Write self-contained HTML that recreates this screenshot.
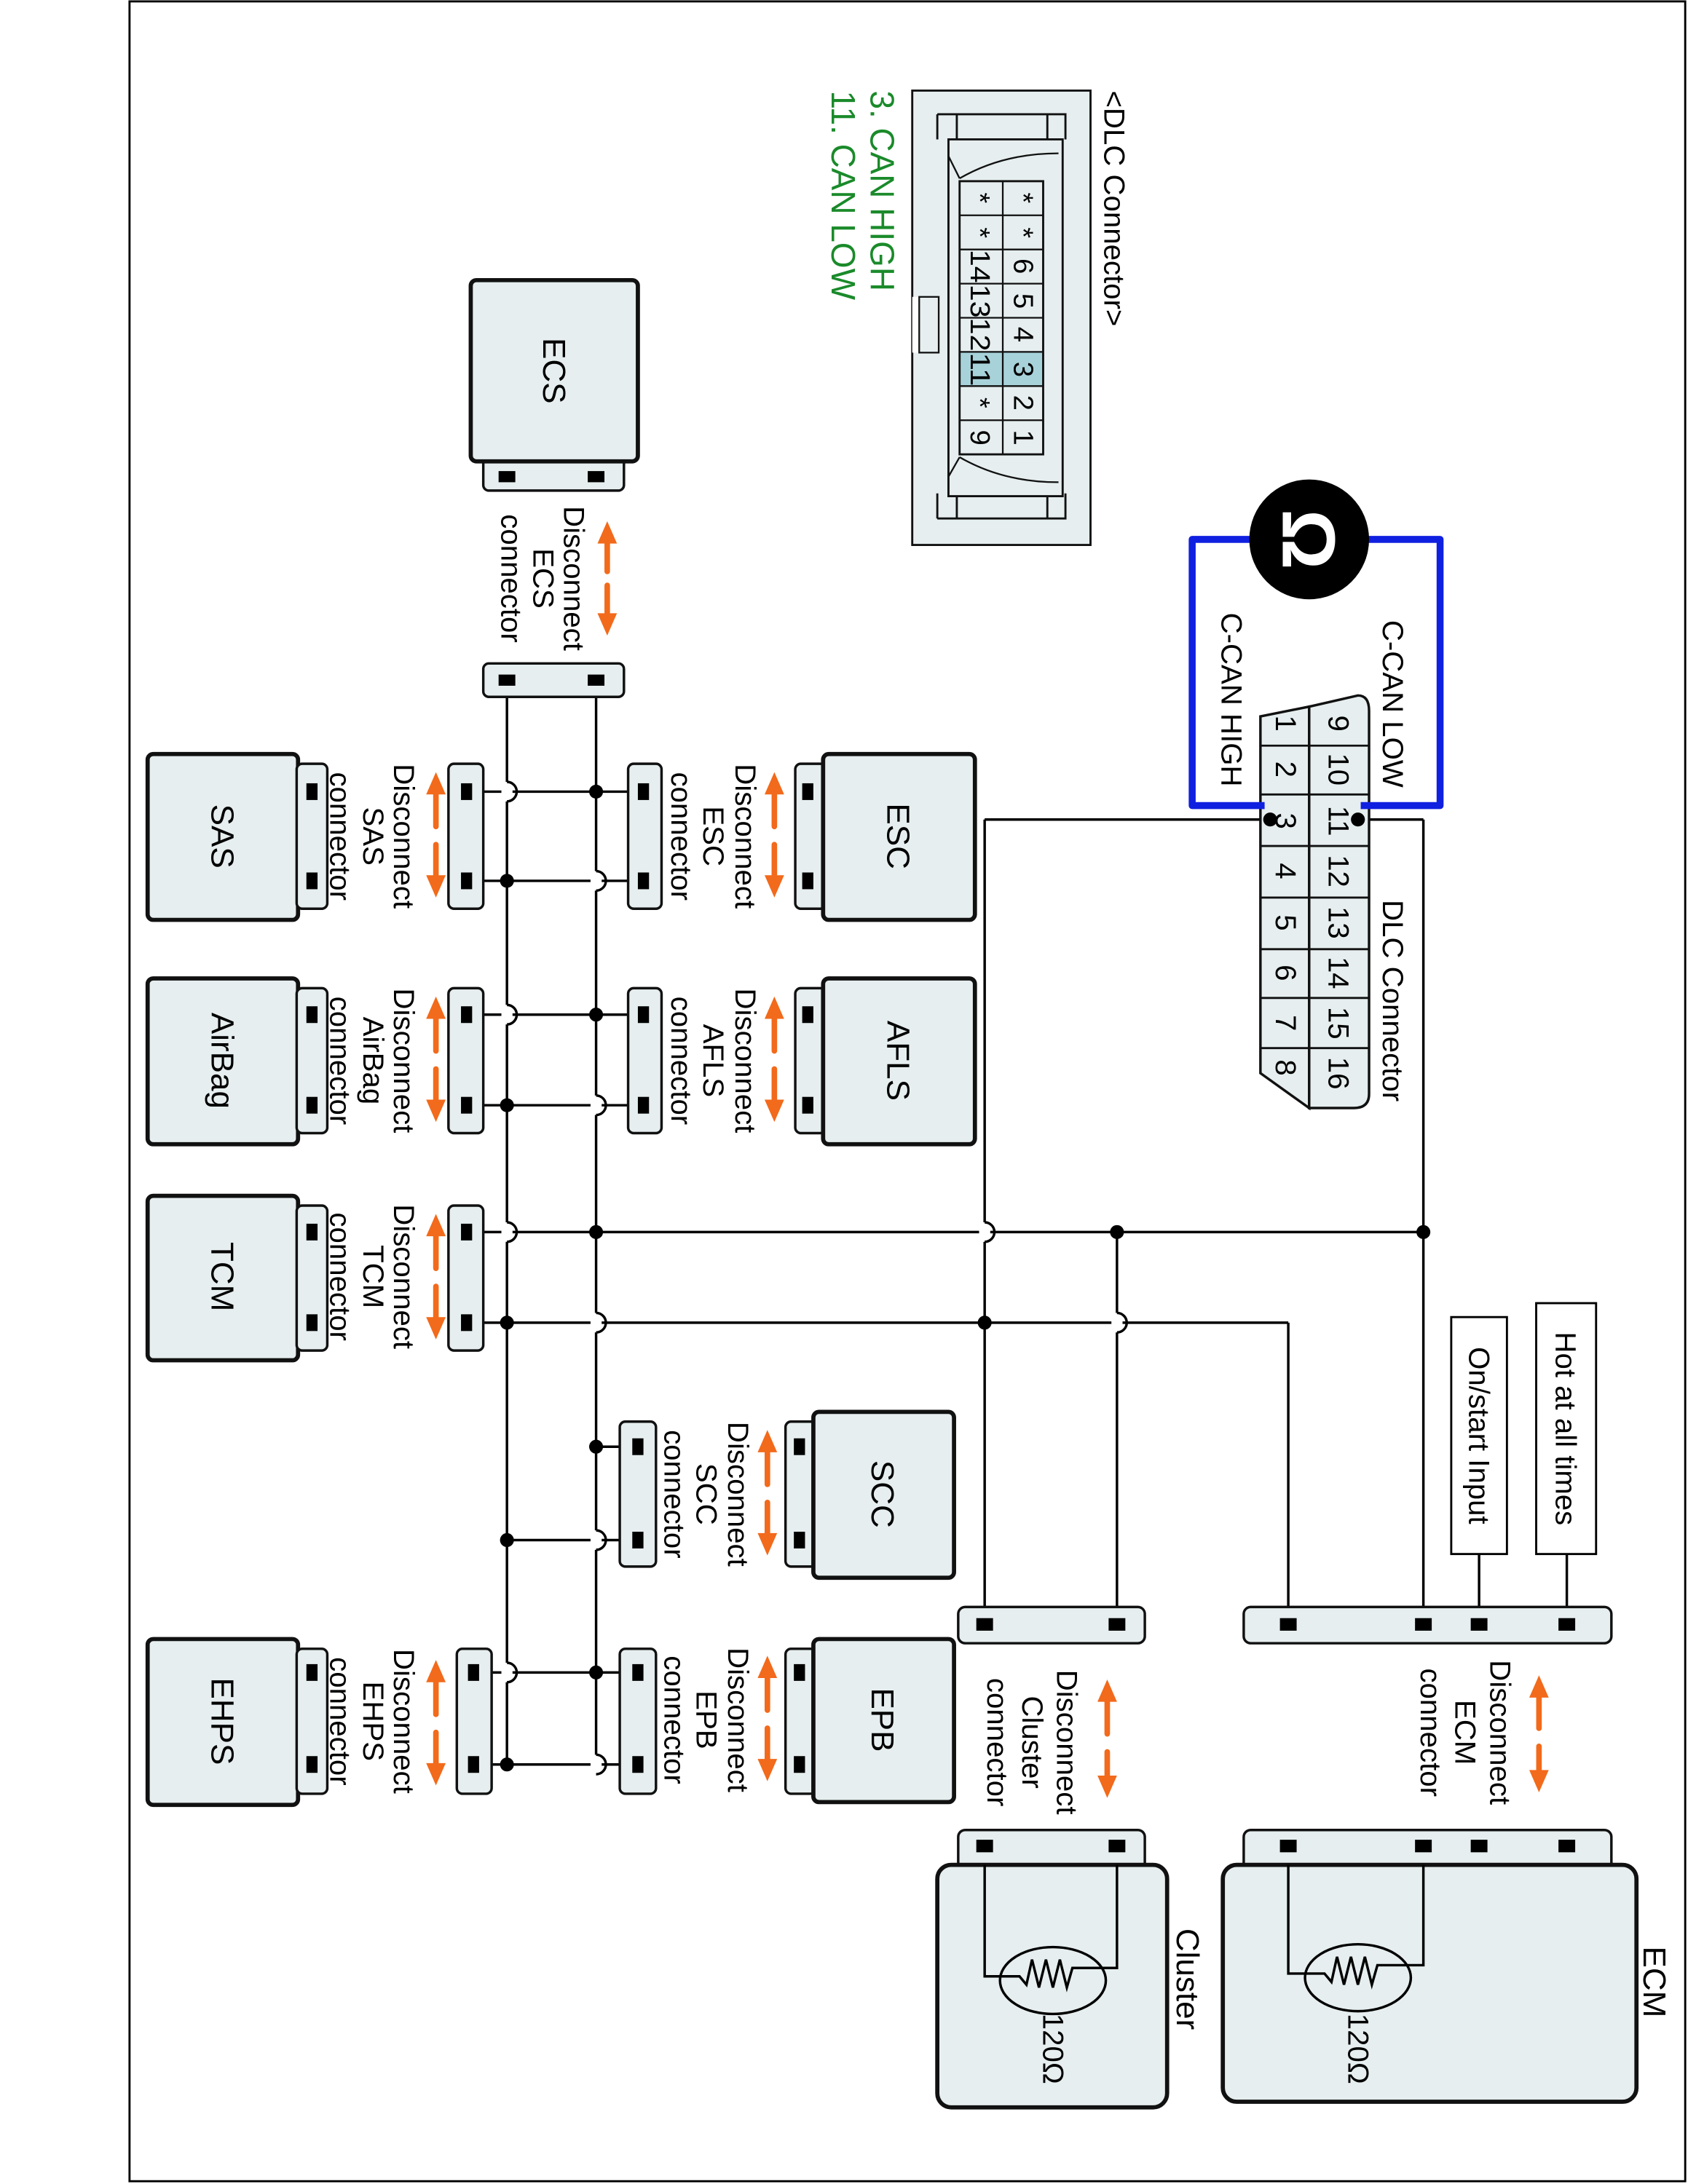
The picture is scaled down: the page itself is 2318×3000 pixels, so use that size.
<!DOCTYPE html>
<html><head><meta charset="utf-8"><style>
html,body{margin:0;padding:0;background:#fff}
svg{display:block}
text{font-family:"Liberation Sans",Arial,sans-serif;fill:#000}
.m{fill:#e6eeef;stroke:#111;stroke-width:3}
.s{fill:#e6eeef;stroke:#111;stroke-width:1.8}
.w{stroke:#000;stroke-width:1.8;fill:none}
.p{fill:#000}
.o{stroke:#f26a1b;stroke-width:4;fill:none;stroke-linecap:round}
.oh{fill:#f26a1b}
.lbl{font-size:21px}
.nm{font-size:23px}
</style></head><body>
<svg width="2318" height="3000" viewBox="0 0 1212 1567" preserveAspectRatio="none" xmlns="http://www.w3.org/2000/svg">
<rect x="93" y="1" width="1117" height="1564" fill="none" stroke="#000" stroke-width="1.5"/>

<line class="w" x1="364" y1="488" x2="364" y2="1268"/>
<line class="w" x1="428" y1="488" x2="428" y2="1268"/>

<!-- ECS -->
<rect class="s" x="347" y="328" width="101" height="24" rx="4"/>
<rect class="m" x="338" y="201" width="120" height="130" rx="4"/>
<rect class="p" x="358" y="338" width="12" height="8"/><rect class="p" x="422" y="338" width="12" height="8"/>
<text class="nm" transform="translate(398,266) rotate(90)" text-anchor="middle" dy="8">ECS</text>
<rect class="s" x="347" y="476" width="101" height="24" rx="4"/>
<rect class="p" x="358" y="484" width="12" height="8"/><rect class="p" x="422" y="484" width="12" height="8"/>
<text class="lbl" transform="translate(412,415) rotate(90)" text-anchor="middle" dy="7">Disconnect</text>
<text class="lbl" transform="translate(390,415) rotate(90)" text-anchor="middle" dy="7">ECS</text>
<text class="lbl" transform="translate(367,415) rotate(90)" text-anchor="middle" dy="7">connector</text>
<line class="o" x1="436" y1="386" x2="436" y2="410"/><polygon class="oh" points="429,390 443,390 436,374"/>
<line class="o" x1="436" y1="420" x2="436" y2="444"/><polygon class="oh" points="429,440 443,440 436,456"/>

<g class="w">
<line x1="335" y1="568" x2="462" y2="568"/>
<line x1="335" y1="632" x2="462" y2="632"/>
<line x1="335" y1="728" x2="462" y2="728"/>
<line x1="335" y1="793" x2="462" y2="793"/>
<line x1="335" y1="884" x2="1022" y2="884"/>
<line x1="335" y1="949" x2="925" y2="949"/>
<line x1="925" y1="949" x2="925" y2="1165"/>
<line x1="428" y1="1038" x2="458" y2="1038"/>
<line x1="364" y1="1105" x2="458" y2="1105"/>
<line x1="340" y1="1200" x2="458" y2="1200"/>
<line x1="340" y1="1266" x2="458" y2="1266"/>
<line x1="911" y1="588" x2="707" y2="588"/>
<line x1="707" y1="588" x2="707" y2="1165"/>
<line x1="975" y1="588" x2="1022" y2="588"/>
<line x1="1022" y1="588" x2="1022" y2="1165"/>
<line x1="802" y1="884" x2="802" y2="1165"/>
<line x1="1062" y1="1115" x2="1062" y2="1165"/>
<line x1="1125" y1="1115" x2="1125" y2="1165"/>
</g>
<g>
<rect fill="#fff" x="360" y="561" width="8" height="14"/><path class="w" d="M364 561 A7 7 0 0 1 364 575"/>
<rect fill="#fff" x="424" y="625" width="8" height="14"/><path class="w" d="M428 625 A7 7 0 0 1 428 639"/>
<rect fill="#fff" x="360" y="721" width="8" height="14"/><path class="w" d="M364 721 A7 7 0 0 1 364 735"/>
<rect fill="#fff" x="424" y="786" width="8" height="14"/><path class="w" d="M428 786 A7 7 0 0 1 428 800"/>
<rect fill="#fff" x="360" y="877" width="8" height="14"/><path class="w" d="M364 877 A7 7 0 0 1 364 891"/>
<rect fill="#fff" x="703" y="877" width="8" height="14"/><path class="w" d="M707 877 A7 7 0 0 1 707 891"/>
<rect fill="#fff" x="424" y="942" width="8" height="14"/><path class="w" d="M428 942 A7 7 0 0 1 428 956"/>
<rect fill="#fff" x="798" y="942" width="8" height="14"/><path class="w" d="M802 942 A7 7 0 0 1 802 956"/>
<rect fill="#fff" x="424" y="1098" width="8" height="14"/><path class="w" d="M428 1098 A7 7 0 0 1 428 1112"/>
<rect fill="#fff" x="360" y="1193" width="8" height="14"/><path class="w" d="M364 1193 A7 7 0 0 1 364 1207"/>
<rect fill="#fff" x="424" y="1259" width="8" height="14"/><path class="w" d="M428 1259 A7 7 0 0 1 428 1273"/>
</g>
<g class="p">
<circle cx="428" cy="568" r="5"/><circle cx="364" cy="632" r="5"/>
<circle cx="428" cy="728" r="5"/><circle cx="364" cy="793" r="5"/>
<circle cx="428" cy="884" r="5"/><circle cx="802" cy="884" r="5"/><circle cx="1022" cy="884" r="5"/>
<circle cx="364" cy="949" r="5"/><circle cx="707" cy="949" r="5"/>
<circle cx="428" cy="1038" r="5"/><circle cx="364" cy="1105" r="5"/>
<circle cx="428" cy="1200" r="5"/><circle cx="364" cy="1266" r="5"/>
</g>

<g>
<rect class="s" x="571" y="548" width="22" height="104" rx="4"/>
<rect class="m" x="591" y="541" width="109" height="119" rx="4"/>
<rect class="p" x="576" y="562" width="8" height="12"/><rect class="p" x="576" y="626" width="8" height="12"/>
<text class="nm" transform="translate(645,600) rotate(90)" text-anchor="middle" dy="8">ESC</text>
<rect class="s" x="451" y="548" width="24" height="104" rx="4"/>
<rect class="p" x="458" y="562" width="8" height="12"/><rect class="p" x="458" y="626" width="8" height="12"/>
<text class="lbl" transform="translate(535,600) rotate(90)" text-anchor="middle" dy="7">Disconnect</text>
<text class="lbl" transform="translate(512,600) rotate(90)" text-anchor="middle" dy="7">ESC</text>
<text class="lbl" transform="translate(489,600) rotate(90)" text-anchor="middle" dy="7">connector</text>
<line class="o" x1="556" y1="566" x2="556" y2="593"/><polygon class="oh" points="549,570 563,570 556,554"/>
<line class="o" x1="556" y1="606" x2="556" y2="632"/><polygon class="oh" points="549,628 563,628 556,644"/>

<rect class="s" x="571" y="709" width="22" height="104" rx="4"/>
<rect class="m" x="591" y="702" width="109" height="119" rx="4"/>
<rect class="p" x="576" y="722" width="8" height="12"/><rect class="p" x="576" y="787" width="8" height="12"/>
<text class="nm" transform="translate(645,761) rotate(90)" text-anchor="middle" dy="8">AFLS</text>
<rect class="s" x="451" y="709" width="24" height="104" rx="4"/>
<rect class="p" x="458" y="722" width="8" height="12"/><rect class="p" x="458" y="787" width="8" height="12"/>
<text class="lbl" transform="translate(535,761) rotate(90)" text-anchor="middle" dy="7">Disconnect</text>
<text class="lbl" transform="translate(512,761) rotate(90)" text-anchor="middle" dy="7">AFLS</text>
<text class="lbl" transform="translate(489,761) rotate(90)" text-anchor="middle" dy="7">connector</text>
<line class="o" x1="556" y1="727" x2="556" y2="754"/><polygon class="oh" points="549,731 563,731 556,715"/>
<line class="o" x1="556" y1="767" x2="556" y2="793"/><polygon class="oh" points="549,789 563,789 556,805"/>
</g>

<g>
<rect class="m" x="106" y="541" width="108" height="119" rx="4"/>
<rect class="s" x="213" y="548" width="22" height="104" rx="4"/>
<rect class="p" x="220" y="562" width="8" height="12"/><rect class="p" x="220" y="626" width="8" height="12"/>
<text class="nm" transform="translate(160,600) rotate(90)" text-anchor="middle" dy="8">SAS</text>
<rect class="s" x="322" y="548" width="25" height="104" rx="4"/>
<rect class="p" x="331" y="562" width="8" height="12"/><rect class="p" x="331" y="626" width="8" height="12"/>
<text class="lbl" transform="translate(290,600) rotate(90)" text-anchor="middle" dy="7">Disconnect</text>
<text class="lbl" transform="translate(268,600) rotate(90)" text-anchor="middle" dy="7">SAS</text>
<text class="lbl" transform="translate(244,600) rotate(90)" text-anchor="middle" dy="7">connector</text>
<line class="o" x1="313" y1="566" x2="313" y2="593"/><polygon class="oh" points="306,570 320,570 313,554"/>
<line class="o" x1="313" y1="606" x2="313" y2="632"/><polygon class="oh" points="306,628 320,628 313,644"/>

<rect class="m" x="106" y="702" width="108" height="119" rx="4"/>
<rect class="s" x="213" y="709" width="22" height="104" rx="4"/>
<rect class="p" x="220" y="722" width="8" height="12"/><rect class="p" x="220" y="787" width="8" height="12"/>
<text class="nm" transform="translate(160,761) rotate(90)" text-anchor="middle" dy="8">AirBag</text>
<rect class="s" x="322" y="709" width="25" height="104" rx="4"/>
<rect class="p" x="331" y="722" width="8" height="12"/><rect class="p" x="331" y="787" width="8" height="12"/>
<text class="lbl" transform="translate(290,761) rotate(90)" text-anchor="middle" dy="7">Disconnect</text>
<text class="lbl" transform="translate(268,761) rotate(90)" text-anchor="middle" dy="7">AirBag</text>
<text class="lbl" transform="translate(244,761) rotate(90)" text-anchor="middle" dy="7">connector</text>
<line class="o" x1="313" y1="727" x2="313" y2="754"/><polygon class="oh" points="306,731 320,731 313,715"/>
<line class="o" x1="313" y1="767" x2="313" y2="793"/><polygon class="oh" points="306,789 320,789 313,805"/>

<rect class="m" x="106" y="858" width="108" height="118" rx="4"/>
<rect class="s" x="213" y="865" width="22" height="104" rx="4"/>
<rect class="p" x="220" y="878" width="8" height="12"/><rect class="p" x="220" y="943" width="8" height="12"/>
<text class="nm" transform="translate(160,916) rotate(90)" text-anchor="middle" dy="8">TCM</text>
<rect class="s" x="322" y="865" width="25" height="104" rx="4"/>
<rect class="p" x="331" y="878" width="8" height="12"/><rect class="p" x="331" y="943" width="8" height="12"/>
<text class="lbl" transform="translate(290,916) rotate(90)" text-anchor="middle" dy="7">Disconnect</text>
<text class="lbl" transform="translate(268,916) rotate(90)" text-anchor="middle" dy="7">TCM</text>
<text class="lbl" transform="translate(244,916) rotate(90)" text-anchor="middle" dy="7">connector</text>
<line class="o" x1="313" y1="883" x2="313" y2="910"/><polygon class="oh" points="306,887 320,887 313,871"/>
<line class="o" x1="313" y1="923" x2="313" y2="949"/><polygon class="oh" points="306,945 320,945 313,961"/>
</g>

<g>
<rect class="s" x="564" y="1020" width="22" height="104" rx="4"/>
<rect class="m" x="584" y="1013" width="101" height="119" rx="4"/>
<rect class="p" x="570" y="1032" width="8" height="12"/><rect class="p" x="570" y="1099" width="8" height="12"/>
<text class="nm" transform="translate(634,1072) rotate(90)" text-anchor="middle" dy="8">SCC</text>
<rect class="s" x="445" y="1020" width="26" height="104" rx="4"/>
<rect class="p" x="454" y="1032" width="8" height="12"/><rect class="p" x="454" y="1099" width="8" height="12"/>
<text class="lbl" transform="translate(530,1072) rotate(90)" text-anchor="middle" dy="7">Disconnect</text>
<text class="lbl" transform="translate(507,1072) rotate(90)" text-anchor="middle" dy="7">SCC</text>
<text class="lbl" transform="translate(484,1072) rotate(90)" text-anchor="middle" dy="7">connector</text>
<line class="o" x1="551" y1="1038" x2="551" y2="1065"/><polygon class="oh" points="544,1042 558,1042 551,1026"/>
<line class="o" x1="551" y1="1078" x2="551" y2="1104"/><polygon class="oh" points="544,1100 558,1100 551,1116"/>

<rect class="s" x="564" y="1183" width="22" height="104" rx="4"/>
<rect class="m" x="584" y="1176" width="101" height="117" rx="4"/>
<rect class="p" x="570" y="1194" width="8" height="12"/><rect class="p" x="570" y="1260" width="8" height="12"/>
<text class="nm" transform="translate(634,1234) rotate(90)" text-anchor="middle" dy="8">EPB</text>
<rect class="s" x="445" y="1183" width="26" height="104" rx="4"/>
<rect class="p" x="454" y="1194" width="8" height="12"/><rect class="p" x="454" y="1260" width="8" height="12"/>
<text class="lbl" transform="translate(530,1234) rotate(90)" text-anchor="middle" dy="7">Disconnect</text>
<text class="lbl" transform="translate(507,1234) rotate(90)" text-anchor="middle" dy="7">EPB</text>
<text class="lbl" transform="translate(484,1234) rotate(90)" text-anchor="middle" dy="7">connector</text>
<line class="o" x1="551" y1="1200" x2="551" y2="1227"/><polygon class="oh" points="544,1204 558,1204 551,1188"/>
<line class="o" x1="551" y1="1240" x2="551" y2="1266"/><polygon class="oh" points="544,1262 558,1262 551,1278"/>

<rect class="m" x="106" y="1176" width="108" height="119" rx="4"/>
<rect class="s" x="213" y="1183" width="22" height="104" rx="4"/>
<rect class="p" x="220" y="1194" width="8" height="12"/><rect class="p" x="220" y="1260" width="8" height="12"/>
<text class="nm" transform="translate(160,1235) rotate(90)" text-anchor="middle" dy="8">EHPS</text>
<rect class="s" x="328" y="1183" width="25" height="104" rx="4"/>
<rect class="p" x="336" y="1194" width="8" height="12"/><rect class="p" x="336" y="1260" width="8" height="12"/>
<text class="lbl" transform="translate(290,1235) rotate(90)" text-anchor="middle" dy="7">Disconnect</text>
<text class="lbl" transform="translate(268,1235) rotate(90)" text-anchor="middle" dy="7">EHPS</text>
<text class="lbl" transform="translate(244,1235) rotate(90)" text-anchor="middle" dy="7">connector</text>
<line class="o" x1="313" y1="1203" x2="313" y2="1230"/><polygon class="oh" points="306,1207 320,1207 313,1191"/>
<line class="o" x1="313" y1="1243" x2="313" y2="1269"/><polygon class="oh" points="306,1265 320,1265 313,1281"/>
</g>

<rect class="s" x="688" y="1153" width="134" height="26" rx="5"/>
<rect class="p" x="701" y="1161" width="12" height="9"/><rect class="p" x="796" y="1161" width="12" height="9"/>
<rect class="s" x="893" y="1153" width="264" height="26" rx="5"/>
<rect class="p" x="919" y="1161" width="12" height="9"/><rect class="p" x="1016" y="1161" width="12" height="9"/>
<rect class="p" x="1056" y="1161" width="12" height="9"/><rect class="p" x="1119" y="1161" width="12" height="9"/>

<rect x="1042" y="945" width="40" height="170" fill="#fff" stroke="#000" stroke-width="1.5"/>
<text class="lbl" transform="translate(1062,1030) rotate(90)" text-anchor="middle" dy="7">On/start Input</text>
<rect x="1103" y="935" width="43" height="180" fill="#fff" stroke="#000" stroke-width="1.5"/>
<text class="lbl" transform="translate(1124,1025) rotate(90)" text-anchor="middle" dy="7">Hot at all times</text>

<text class="lbl" transform="translate(766,1250) rotate(90)" text-anchor="middle" dy="7">Disconnect</text>
<text class="lbl" transform="translate(741,1250) rotate(90)" text-anchor="middle" dy="7">Cluster</text>
<text class="lbl" transform="translate(716,1250) rotate(90)" text-anchor="middle" dy="7">connector</text>
<line class="o" x1="795" y1="1217" x2="795" y2="1244"/><polygon class="oh" points="788,1221 802,1221 795,1205"/>
<line class="o" x1="795" y1="1257" x2="795" y2="1278"/><polygon class="oh" points="788,1274 802,1274 795,1290"/>
<text class="lbl" transform="translate(1077,1243) rotate(90)" text-anchor="middle" dy="7">Disconnect</text>
<text class="lbl" transform="translate(1052,1243) rotate(90)" text-anchor="middle" dy="7">ECM</text>
<text class="lbl" transform="translate(1027,1243) rotate(90)" text-anchor="middle" dy="7">connector</text>
<line class="o" x1="1105" y1="1214" x2="1105" y2="1240"/><polygon class="oh" points="1098,1218 1112,1218 1105,1202"/>
<line class="o" x1="1105" y1="1253" x2="1105" y2="1273"/><polygon class="oh" points="1098,1270 1112,1270 1105,1286"/>

<rect class="s" x="688" y="1313" width="134" height="30" rx="5"/>
<rect class="p" x="701" y="1320" width="12" height="9"/><rect class="p" x="796" y="1320" width="12" height="9"/>
<rect class="m" x="673" y="1338" width="165" height="174" rx="10"/>
<path class="w" d="M707 1338 V1418 H732 L737 1424 L741 1406 L746 1426 L751 1406 L756 1426 L761 1406 L766 1426 L770 1412 H802 V1338"/>
<ellipse cx="756" cy="1421" rx="38" ry="24" fill="none" stroke="#000" stroke-width="1.8"/>
<text class="lbl" transform="translate(756,1470) rotate(90)" text-anchor="middle" dy="7">120Ω</text>
<text class="nm" transform="translate(853,1420) rotate(90)" text-anchor="middle" dy="8">Cluster</text>

<rect class="s" x="893" y="1313" width="264" height="30" rx="5"/>
<rect class="p" x="919" y="1320" width="12" height="9"/><rect class="p" x="1016" y="1320" width="12" height="9"/>
<rect class="p" x="1056" y="1320" width="12" height="9"/><rect class="p" x="1119" y="1320" width="12" height="9"/>
<rect class="m" x="878" y="1338" width="297" height="170" rx="10"/>
<path class="w" d="M925 1338 V1416 H951 L956 1422 L960 1404 L965 1424 L970 1404 L975 1424 L980 1404 L985 1424 L989 1410 H1022 V1338"/>
<ellipse cx="975" cy="1419" rx="38" ry="24" fill="none" stroke="#000" stroke-width="1.8"/>
<text class="lbl" transform="translate(975,1470) rotate(90)" text-anchor="middle" dy="7">120Ω</text>
<text class="nm" transform="translate(1188,1422) rotate(90)" text-anchor="middle" dy="8">ECM</text>

<path d="M905 514 L940 507 L940 795 L905 770 Z" fill="#e6eeef" stroke="#111" stroke-width="1.8"/>
<path d="M940 507 L975 499 Q983 499 983 510 L983 785 Q983 795 972 795 L940 795 Z" fill="#e6eeef" stroke="#111" stroke-width="1.8"/>
<g stroke="#111" stroke-width="1.5">
<line x1="905" y1="535" x2="983" y2="535"/><line x1="905" y1="570" x2="983" y2="570"/>
<line x1="905" y1="607" x2="983" y2="607"/><line x1="905" y1="644" x2="983" y2="644"/>
<line x1="905" y1="681" x2="983" y2="681"/><line x1="905" y1="716" x2="983" y2="716"/>
<line x1="905" y1="752" x2="983" y2="752"/>
</g>
<g class="lbl">
<text transform="translate(923,519) rotate(90)" text-anchor="middle" dy="7">1</text>
<text transform="translate(923,552) rotate(90)" text-anchor="middle" dy="7">2</text>
<text transform="translate(923,589) rotate(90)" text-anchor="middle" dy="7">3</text>
<text transform="translate(923,625) rotate(90)" text-anchor="middle" dy="7">4</text>
<text transform="translate(923,662) rotate(90)" text-anchor="middle" dy="7">5</text>
<text transform="translate(923,698) rotate(90)" text-anchor="middle" dy="7">6</text>
<text transform="translate(923,734) rotate(90)" text-anchor="middle" dy="7">7</text>
<text transform="translate(923,766) rotate(90)" text-anchor="middle" dy="7">8</text>
<text transform="translate(961,519) rotate(90)" text-anchor="middle" dy="7">9</text>
<text transform="translate(961,552) rotate(90)" text-anchor="middle" dy="7">10</text>
<text transform="translate(961,589) rotate(90)" text-anchor="middle" dy="7">11</text>
<text transform="translate(961,625) rotate(90)" text-anchor="middle" dy="7">12</text>
<text transform="translate(961,662) rotate(90)" text-anchor="middle" dy="7">13</text>
<text transform="translate(961,698) rotate(90)" text-anchor="middle" dy="7">14</text>
<text transform="translate(961,734) rotate(90)" text-anchor="middle" dy="7">15</text>
<text transform="translate(961,770) rotate(90)" text-anchor="middle" dy="7">16</text>
</g>
<text class="lbl" transform="translate(1000,505) rotate(90)" text-anchor="middle" dy="7">C-CAN LOW</text>
<text class="lbl" transform="translate(884,502) rotate(90)" text-anchor="middle" dy="7">C-CAN HIGH</text>
<text class="lbl" transform="translate(1000,718) rotate(90)" text-anchor="middle" dy="7">DLC Connector</text>
<path d="M908 578 H856 V387 H1034 V578 H977" fill="none" stroke="#1020e0" stroke-width="5" stroke-linejoin="round"/>
<circle cx="912" cy="588" r="5" class="p"/><circle cx="975" cy="588" r="5" class="p"/>
<circle cx="940" cy="387" r="43" fill="#000"/>
<text transform="translate(940,387) rotate(90)" text-anchor="middle" dy="19" style="font-size:54px;font-weight:bold;fill:#fff">Ω</text>

<rect x="655" y="65" width="128" height="326" fill="#e6eeef" stroke="#111" stroke-width="1.5"/>
<rect x="655" y="213" width="5" height="40" fill="#fff"/>
<rect x="660" y="213" width="14" height="40" fill="#e6eeef" stroke="#111" stroke-width="1.2"/>
<path d="M673 82 V100 M673 82 H765 V100 M687 82 V100 M752 82 V100 M673 372 V354 M673 372 H765 V354 M687 372 V354 M752 372 V354" fill="none" stroke="#111" stroke-width="1.5"/>
<path d="M681 100 H763 V356 H681 Z" fill="#e6eeef" stroke="#111" stroke-width="1.5"/>
<path d="M681 112 L689 128 M681 342 L689 328 M689 128 Q720 110 760 110 M689 328 Q720 346 760 346" fill="none" stroke="#111" stroke-width="1.2"/>
<rect x="720" y="252" width="29" height="24.5" fill="#a8d2da"/>
<rect x="689" y="252" width="31" height="24.5" fill="#a8d2da"/>
<rect x="689" y="130" width="60" height="196" fill="none" stroke="#111" stroke-width="1.5"/>
<g stroke="#111" stroke-width="1.2">
<line x1="720" y1="130" x2="720" y2="326"/>
<line x1="689" y1="154.5" x2="749" y2="154.5"/><line x1="689" y1="179" x2="749" y2="179"/>
<line x1="689" y1="203.5" x2="749" y2="203.5"/><line x1="689" y1="228" x2="749" y2="228"/>
<line x1="689" y1="252.5" x2="749" y2="252.5"/><line x1="689" y1="277" x2="749" y2="277"/>
<line x1="689" y1="301.5" x2="749" y2="301.5"/>
</g>
<g style="font-size:20px">
<text transform="translate(735,142) rotate(90)" text-anchor="middle" dy="7">*</text>
<text transform="translate(735,167) rotate(90)" text-anchor="middle" dy="7">*</text>
<text transform="translate(735,191) rotate(90)" text-anchor="middle" dy="7">6</text>
<text transform="translate(735,216) rotate(90)" text-anchor="middle" dy="7">5</text>
<text transform="translate(735,240) rotate(90)" text-anchor="middle" dy="7">4</text>
<text transform="translate(735,265) rotate(90)" text-anchor="middle" dy="7">3</text>
<text transform="translate(735,289) rotate(90)" text-anchor="middle" dy="7">2</text>
<text transform="translate(735,314) rotate(90)" text-anchor="middle" dy="7">1</text>
<text transform="translate(704,142) rotate(90)" text-anchor="middle" dy="7">*</text>
<text transform="translate(704,167) rotate(90)" text-anchor="middle" dy="7">*</text>
<text transform="translate(704,191) rotate(90)" text-anchor="middle" dy="7" textLength="24" lengthAdjust="spacingAndGlyphs">14</text>
<text transform="translate(704,216) rotate(90)" text-anchor="middle" dy="7" textLength="24" lengthAdjust="spacingAndGlyphs">13</text>
<text transform="translate(704,240) rotate(90)" text-anchor="middle" dy="7" textLength="24" lengthAdjust="spacingAndGlyphs">12</text>
<text transform="translate(704,265) rotate(90)" text-anchor="middle" dy="7" textLength="24" lengthAdjust="spacingAndGlyphs">11</text>
<text transform="translate(704,289) rotate(90)" text-anchor="middle" dy="7">*</text>
<text transform="translate(704,314) rotate(90)" text-anchor="middle" dy="7">9</text>
</g>
<text class="lbl" transform="translate(800,65) rotate(90)" dy="7">&lt;DLC Connector&gt;</text>
<text transform="translate(633,65) rotate(90)" dy="8" style="fill:#1a8a2a;font-size:24px">3. CAN HIGH</text>
<text transform="translate(605,65) rotate(90)" dy="8" style="fill:#1a8a2a;font-size:24px">11. CAN LOW</text>
</svg>
</body></html>
